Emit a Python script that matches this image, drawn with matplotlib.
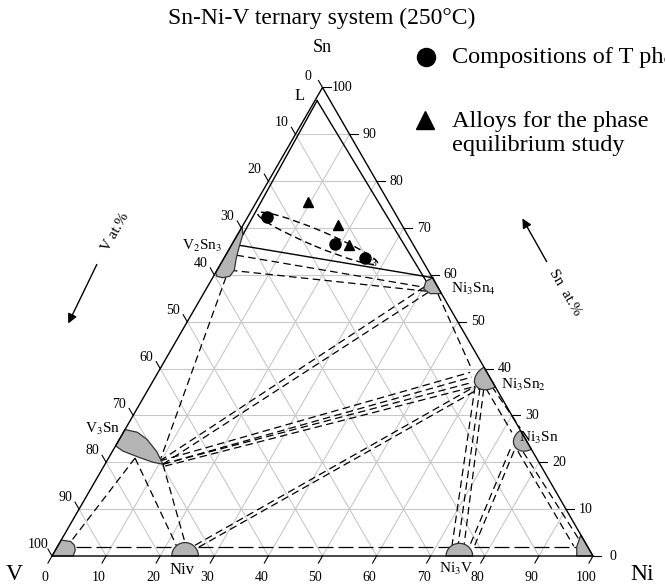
import numpy as np
import matplotlib.pyplot as plt
from matplotlib.patches import Polygon, Ellipse

plt.rcParams['font.family'] = ['Liberation Serif', 'DejaVu Serif']
plt.rcParams['mathtext.fontset'] = 'stix'

H = np.sqrt(3) / 2
W_PX, H_PX = 665, 588

# axis ticks (at.%)
ticks = list(range(0, 101, 10))

# compositions are (at.% Ni, at.% Sn); V is the rest
t_phase_ni = [3.5, 19.0, 26.1]
t_phase_sn = [72.3, 66.5, 63.6]
alloy_ni = [9.6, 17.6, 21.8]
alloy_sn = [75.5, 70.6, 66.3]

# single phase fields
v2sn3 = [(0, 70.3), (1.0, 68.5), (1.6, 66.0), (2.3, 63.5), (3.2, 61.0),
         (3.0, 59.7), (1.8, 59.4), (0.6, 59.7), (0, 60.5)]
v3sn = [(0, 27.0), (2.6, 26.4), (5.1, 24.9), (8.2, 22.3), (10.7, 19.6),
        (8.7, 20.0), (5.7, 21.0), (1.9, 22.4), (0, 23.5)]
ni3sn4 = [(40.7, 59.4), (39.8, 58.6), (40.2, 57.0), (41.9, 56.0), (44.0, 56.0)]
v_ss = [(0, 0), (3.9, 0), (3.7, 1.2), (3.0, 2.3), (1.9, 3.1), (0, 3.4)]
ni_ss = [(100, 0), (97.0, 0), (96.0, 2.0), (95.5, 4.5)]
# fields sitting on a binary edge: centre (at.%), half length, depth
edge_base = {"NiV": (24.6, 0.0246, 0.0248), "Ni3V": (75.3, 0.0246, 0.0234)}
edge_right = {"Ni3Sn2": (38.2, 0.021, 0.030), "Ni3Sn": (24.8, 0.020, 0.024)}

L_pt = (0.4, 97.2)
solid_lines = [
    (L_pt, (1.0, 68.6)),
    (L_pt, (39.9, 58.6)),
    ((1.6, 66.3), (40.7, 59.4)),
]
dashed_lines = [
    ((2.0, 64.2), (39.9, 57.4)),
    ((2.4, 61.0), (41.1, 56.5)),
    ((2.4, 59.5), (9.8, 20.3)),
    ((9.8, 20.3), (40.4, 57.8)),
    ((10.7, 19.6), (41.6, 56.5)),
    ((43.4, 55.9), (57.8, 39.7)),
    ((9.8, 20.3), (57.7, 39.2)),
    ((10.7, 19.6), (58.5, 38.2)),
    ((10.7, 19.6), (59.3, 37.1)),
    ((11.3, 19.2), (60.1, 36.2)),
    ((10.7, 19.6), (23.2, 2.8)),
    ((4.9, 20.9), (22.0, 2.1)),
    ((4.9, 20.9), (2.0, 3.4)),
    ((25.3, 2.3), (60.1, 36.2)),
    ((26.2, 1.9), (61.2, 35.8)),
    ((60.1, 36.2), (72.8, 2.3)),
    ((61.2, 35.8), (73.8, 2.6)),
    ((62.0, 35.6), (74.9, 2.6)),
    ((62.3, 35.8), (71.8, 26.4)),
    ((63.2, 36.2), (72.9, 27.3)),
    ((73.3, 22.8), (76.1, 2.3)),
    ((74.2, 22.4), (77.0, 2.3)),
    ((74.9, 22.4), (95.4, 2.1)),
    ((76.0, 22.2), (96.0, 3.2)),
]
long_dashed = [((3.5, 2.0), (22.5, 2.0)), ((26.0, 2.0), (73.5, 2.0)),
               ((77.0, 2.0), (96.5, 2.0))]

# T phase region
t_center = (15.2, 67.8)


def tern(ni, sn):
    ni = np.asarray(ni, float) / 100
    sn = np.asarray(sn, float) / 100
    return ni + sn / 2, sn * H


def put(x, y, s, **kw):
    fig.text(x / W_PX, 1 - y / H_PX, s, **kw)


fig = plt.figure(figsize=(6.65, 5.88), dpi=100)
ax = fig.add_axes([0, 0, 1, 1])
ax.set_xlim(-52 / 541, 613 / 541)
ax.set_ylim(-32 / 541, 556 / 541)
ax.axis('off')

# grid
for v in ticks[1:-1]:
    ax.plot(*tern([0, 100 - v], [v, v]), color='#c8c8c8', lw=0.8, zorder=1)
    ax.plot(*tern([v, v], [0, 100 - v]), color='#c8c8c8', lw=0.8, zorder=1)
    ax.plot(*tern([100 - v, 0], [0, 100 - v]), color='#c8c8c8', lw=0.8, zorder=1)

# frame
ax.plot(*tern([0, 100, 0, 0], [0, 0, 100, 0]), color='k', lw=1.0, zorder=5)

tl = 0.015
for v in ticks:
    # bottom (Ni)
    x, y = tern(v, 0)
    ax.plot([x, x - tl * 0.5], [y, y - tl * H], color='k', lw=0.8)
    ax.text(x - 0.013, y - 0.039, str(v), ha='center', va='center', fontsize=10)
    # left (V)
    x, y = tern(0, v)
    ax.plot([x, x - tl * 0.5], [y, y + tl * H], color='k', lw=0.8)
    ax.text(x - 0.026, y + 0.021, str(100 - v), ha='center', va='center', fontsize=10)
    # right (Sn)
    x, y = tern(100 - v, v)
    ax.plot([x, x + tl], [y, y], color='k', lw=0.8)
    ax.text(x + 0.037, y, str(v), ha='center', va='center', fontsize=10)

# tie lines
for a, b in solid_lines:
    ax.plot(*tern([a[0], b[0]], [a[1], b[1]]), color='k', lw=1.0, zorder=3)
for a, b in dashed_lines:
    ax.plot(*tern([a[0], b[0]], [a[1], b[1]]), color='k', lw=0.9,
            dashes=(6, 3.5), zorder=3)
for a, b in long_dashed:
    ax.plot(*tern([a[0], b[0]], [a[1], b[1]]), color='k', lw=0.9,
            dashes=(12, 4), zorder=3)

# phase fields
gray = '#b4b4b4'
for pts in [v2sn3, v3sn, ni3sn4, v_ss, ni_ss]:
    xs, ys = tern([p[0] for p in pts], [p[1] for p in pts])
    ax.add_patch(Polygon(np.column_stack([xs, ys]), closed=True, fc=gray,
                         ec='#333333', lw=0.9, zorder=4))

t = np.linspace(0, np.pi, 40)
for ni, a, d in edge_base.values():
    cx, cy = tern(ni, 0)
    xs = cx + a * np.cos(t)
    ys = cy + d * np.sin(t)
    ax.add_patch(Polygon(np.column_stack([xs, ys]), closed=True, fc=gray,
                         ec='#333333', lw=0.9, zorder=4))
u = np.array([-0.5, H])
n = np.array([-H, -0.5])
for sn, a, d in edge_right.values():
    cx, cy = tern(100 - sn, sn)
    xs = cx + a * np.cos(t) * u[0] + d * np.sin(t) * n[0]
    ys = cy + a * np.cos(t) * u[1] + d * np.sin(t) * n[1]
    ax.add_patch(Polygon(np.column_stack([xs, ys]), closed=True, fc=gray,
                         ec='#333333', lw=0.9, zorder=4))

# T phase region and points
ex, ey = tern(*t_center)
ax.add_patch(Ellipse((ex, ey), 0.24, 0.03, angle=-22.7, fill=False, ec='k',
                     lw=1.0, ls=(0, (5, 3)), zorder=6))
ax.plot(*tern(t_phase_ni, t_phase_sn), 'o', color='k', ms=8, zorder=7)
ax.plot(*tern(alloy_ni, alloy_sn), '^', color='k', ms=7.5, zorder=7)

# legend
ax.plot([(426 - 52) / 541], [(588 - 57 - 32) / 541], 'o', color='k', ms=13,
        clip_on=False)
ax.plot([(425 - 52) / 541], [(588 - 120 - 32) / 541], '^', color='k', ms=13,
        clip_on=False)
put(452, 57, 'Compositions of T phase', fontsize=17.5, va='center', ha='left')
put(452, 121, 'Alloys for the phase', fontsize=17.5, va='center', ha='left')
put(452, 145, 'equilibrium study', fontsize=17.5, va='center', ha='left')

# labels
put(322, 18, 'Sn-Ni-V ternary system (250\u00b0C)', fontsize=17, ha='center',
    va='center')
put(322, 47, 'Sn', fontsize=13, ha='center', va='center')
put(14, 575, 'V', fontsize=17, ha='center', va='center')
put(642, 575, 'Ni', fontsize=17, ha='center', va='center')
put(300, 96, 'L', fontsize=12, ha='center', va='center')
put(202, 246, 'V$_2$Sn$_3$', fontsize=11, ha='center', va='center')
put(473, 289, 'Ni$_3$Sn$_4$', fontsize=11, ha='center', va='center')
put(523, 385, 'Ni$_3$Sn$_2$', fontsize=11, ha='center', va='center')
put(539, 438, 'Ni$_3$Sn', fontsize=11, ha='center', va='center')
put(103, 429, 'V$_3$Sn', fontsize=11, ha='center', va='center')
put(182, 570, 'Niv', fontsize=12, ha='center', va='center')
put(456, 569, 'Ni$_3$V', fontsize=11, ha='center', va='center')
put(374, 263, '3', fontsize=7, ha='center', va='center')

# axis direction arrows
put(115, 232, 'V at.%', fontsize=11, ha='center', va='center', rotation=60)
ax.annotate('', xy=((67 - 52) / 541, (588 - 326 - 32) / 541),
            xytext=((98 - 52) / 541, (588 - 262 - 32) / 541),
            arrowprops=dict(arrowstyle='-|>', color='k', lw=1.0,
                            mutation_scale=14))
put(565, 292, 'Sn  at.%', fontsize=11, ha='center', va='center', rotation=-60)
ax.annotate('', xy=((521 - 52) / 541, (588 - 216 - 32) / 541),
            xytext=((548 - 52) / 541, (588 - 264 - 32) / 541),
            arrowprops=dict(arrowstyle='-|>', color='k', lw=1.0,
                            mutation_scale=14))

fig.savefig('out.png', dpi=100)
